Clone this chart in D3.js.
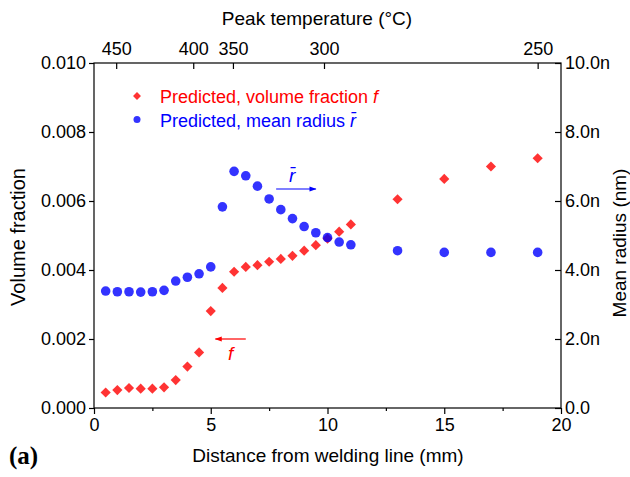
<!DOCTYPE html>
<html>
<head>
<meta charset="utf-8">
<script src="https://cdnjs.cloudflare.com/ajax/libs/d3/7.8.5/d3.min.js"></script>
<style>
  body { margin: 0; background: #fff; }
  svg text { font-family: "Liberation Sans", Arial, sans-serif; }
</style>
</head>
<body>
<div id="chart"></div>
<script>
// distance from welding line (mm)
var distF = [0.5, 1, 1.5, 2, 2.5, 3, 3.5, 4, 4.5, 5, 5.5, 6, 6.5, 7, 7.5, 8, 8.5, 9, 9.5, 10, 10.5, 11, 13, 15, 17, 19];
// predicted volume fraction f
var volFrac = [0.00045, 0.00052, 0.00058, 0.00056, 0.00056, 0.0006, 0.00081, 0.0012, 0.00161, 0.00281, 0.00348, 0.00395,
               0.00409, 0.00414, 0.00424, 0.00432, 0.00441, 0.00456, 0.00472, 0.00491, 0.00511, 0.00532,
               0.00605, 0.00664, 0.0070, 0.00724];
var distR = distF;
// predicted mean radius (nm)
var meanRadius = [3.39, 3.37, 3.37, 3.36, 3.37, 3.41, 3.68, 3.79, 3.89, 4.09, 5.83, 6.86, 6.73, 6.43, 6.06, 5.75,
                  5.49, 5.26, 5.08, 4.94, 4.81, 4.73, 4.56, 4.51, 4.51, 4.51];

// top axis: peak temperature labels at their distance positions
var topTickLabels = ["450", "400", "350", "300", "250"];
var topTickDist = [0.95, 4.25, 5.95, 9.85, 19];

var width = 630, height = 477;
var margin = { top: 63, right: 69, bottom: 69, left: 94 };

var svg = d3.select("#chart").append("svg")
    .attr("width", width)
    .attr("height", height);

var x = d3.scaleLinear().domain([0, 20]).range([margin.left, width - margin.right]);
var yL = d3.scaleLinear().domain([0, 0.010]).range([height - margin.bottom, margin.top]);
var yR = d3.scaleLinear().domain([0, 10]).range([height - margin.bottom, margin.top]);

var defs = svg.append("defs");
function arrowMarker(id, color) {
    defs.append("marker")
        .attr("id", id)
        .attr("viewBox", "0 0 10 10")
        .attr("refX", 9).attr("refY", 5)
        .attr("markerWidth", 10).attr("markerHeight", 7)
        .attr("markerUnits", "userSpaceOnUse")
        .attr("orient", "auto")
        .append("path")
        .attr("d", "M0,1.5 L10,5 L0,8.5 Z")
        .attr("fill", color);
}
arrowMarker("arrowBlue", "#0000ff");
arrowMarker("arrowRed", "#ff0000");

// frame
svg.append("rect")
    .attr("x", x(0)).attr("y", yL(0.010))
    .attr("width", x(20) - x(0)).attr("height", yL(0) - yL(0.010))
    .attr("fill", "none").attr("stroke", "#000").attr("stroke-width", 1.2);

function styleAxis(g) {
    g.select(".domain").remove();
    g.selectAll("line").attr("stroke", "#000").attr("stroke-width", 1.2);
    g.selectAll("text").attr("font-size", 18).attr("fill", "#000");
}

// bottom axis
svg.append("g")
    .attr("transform", "translate(0," + yL(0) + ")")
    .call(d3.axisBottom(x).tickValues([0, 5, 10, 15, 20]).tickSize(6).tickPadding(4))
    .call(styleAxis);
svg.append("g")
    .attr("transform", "translate(0," + yL(0) + ")")
    .call(d3.axisBottom(x).tickValues([2.5, 7.5, 12.5, 17.5]).tickSize(3).tickFormat(""))
    .call(styleAxis);

// left axis
svg.append("g")
    .attr("transform", "translate(" + x(0) + ",0)")
    .call(d3.axisLeft(yL).tickValues([0, 0.002, 0.004, 0.006, 0.008, 0.010]).tickSize(5).tickPadding(3)
        .tickFormat(function (d) { return d.toFixed(3); }))
    .call(styleAxis);

// right axis (ticks inward)
svg.append("g")
    .attr("transform", "translate(" + x(20) + ",0)")
    .call(d3.axisRight(yR).tickValues([0, 2, 4, 6, 8, 10]).tickSizeInner(-6).tickSizeOuter(0).tickPadding(4)
        .tickFormat(function (d) { return d === 0 ? "0.0" : d.toFixed(1) + "n"; }))
    .call(styleAxis);

// top axis (ticks inward)
svg.append("g")
    .attr("transform", "translate(0," + yL(0.010) + ")")
    .call(d3.axisTop(x).tickValues(topTickDist).tickSizeInner(-6).tickSizeOuter(0).tickPadding(8)
        .tickFormat(function (d, i) { return topTickLabels[i]; }))
    .call(styleAxis);

// axis titles
svg.append("text")
    .attr("x", 328).attr("y", 462)
    .attr("text-anchor", "middle").attr("font-size", 19)
    .text("Distance from welding line (mm)");
svg.append("text")
    .attr("x", 317).attr("y", 25)
    .attr("text-anchor", "middle").attr("font-size", 19)
    .text("Peak temperature (\u00B0C)");
svg.append("text")
    .attr("transform", "translate(25,237) rotate(-90)")
    .attr("text-anchor", "middle").attr("font-size", 20)
    .text("Volume fraction");
svg.append("text")
    .attr("transform", "translate(626,243) rotate(-90)")
    .attr("text-anchor", "middle").attr("font-size", 19)
    .text("Mean radius (nm)");
svg.append("text")
    .attr("x", 9).attr("y", 464)
    .style("font-family", "'Liberation Serif', 'Times New Roman', serif")
    .attr("font-weight", "bold").attr("font-size", 25)
    .text("(a)");

// data: volume fraction (red diamonds)
var diamond = d3.symbol().type(d3.symbolDiamond2).size(66);
svg.append("g").selectAll("path")
    .data(distF.map(function (d, i) { return { x: d, v: volFrac[i] }; }))
    .enter().append("path")
    .attr("d", diamond)
    .attr("transform", function (d) { return "translate(" + x(d.x) + "," + yL(d.v) + ")"; })
    .attr("fill", "#ff0000").attr("fill-opacity", 0.8);

// data: mean radius (blue circles)
svg.append("g").selectAll("circle")
    .data(distR.map(function (d, i) { return { x: d, v: meanRadius[i] }; }))
    .enter().append("circle")
    .attr("cx", function (d) { return x(d.x); })
    .attr("cy", function (d) { return yR(d.v); })
    .attr("r", 4.8)
    .attr("fill", "#0000ff").attr("fill-opacity", 0.8);

// legend
svg.append("path")
    .attr("d", d3.symbol().type(d3.symbolDiamond2).size(40))
    .attr("transform", "translate(137,96)")
    .attr("fill", "#ff0000").attr("fill-opacity", 0.8);
var lt1 = svg.append("text").attr("x", 160).attr("y", 103).attr("font-size", 18).attr("fill", "#ff0000");
lt1.append("tspan").text("Predicted, volume fraction ");
lt1.append("tspan").attr("font-style", "italic").text("f");

svg.append("circle").attr("cx", 137).attr("cy", 119.5).attr("r", 3.5)
    .attr("fill", "#0000ff").attr("fill-opacity", 0.8);
var lt2 = svg.append("text").attr("x", 160).attr("y", 127).attr("font-size", 18).attr("fill", "#0000ff");
lt2.append("tspan").text("Predicted, mean radius ");
lt2.append("tspan").attr("font-style", "italic").text("r\u0304");

// annotations
svg.append("text").attr("x", 289).attr("y", 182).attr("font-size", 19)
    .attr("font-style", "italic").attr("fill", "#0000ff").text("r\u0304");
svg.append("line")
    .attr("x1", x(7.8)).attr("y1", 189).attr("x2", x(9.5)).attr("y2", 189)
    .attr("stroke", "#0000ff").attr("stroke-width", 1.2)
    .attr("marker-end", "url(#arrowBlue)");

svg.append("line")
    .attr("x1", x(6.5)).attr("y1", 339).attr("x2", x(5.2)).attr("y2", 339)
    .attr("stroke", "#ff0000").attr("stroke-width", 1.2)
    .attr("marker-end", "url(#arrowRed)");
svg.append("text").attr("x", 228).attr("y", 360).attr("font-size", 19)
    .attr("font-style", "italic").attr("fill", "#ff0000").text("f");
</script>
</body>
</html>
